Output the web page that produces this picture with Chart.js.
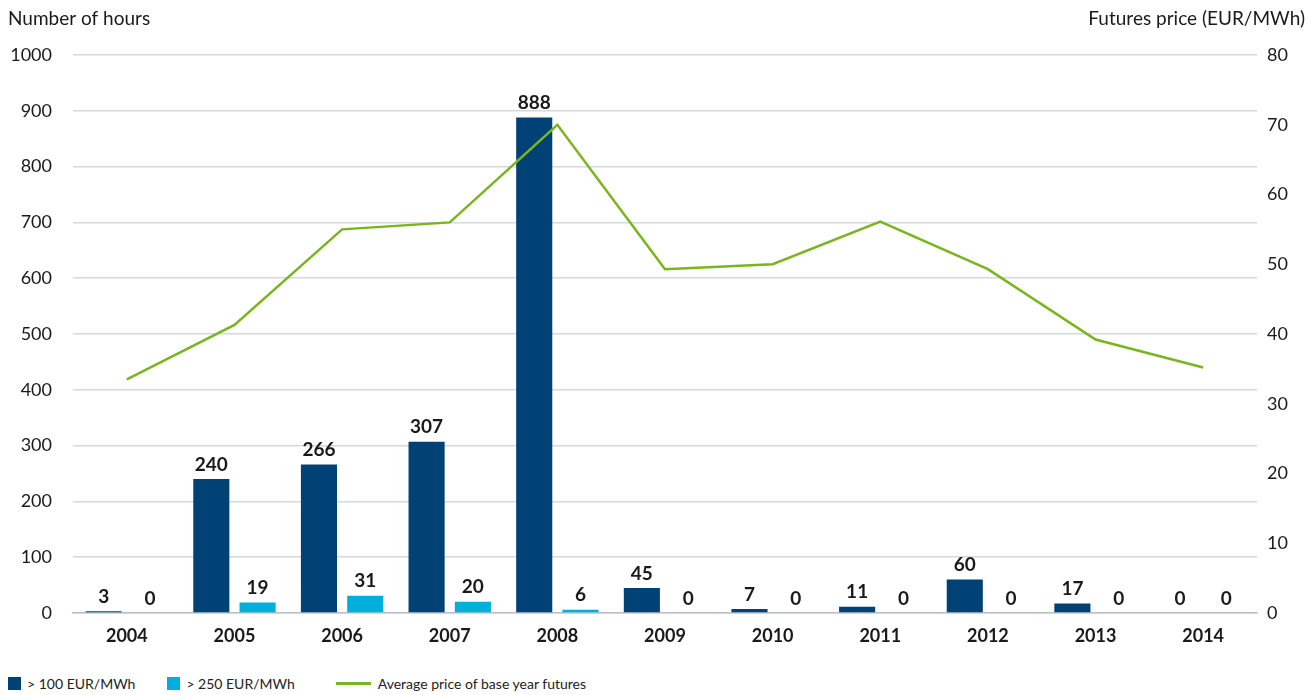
<!DOCTYPE html>
<html>
<head>
<meta charset="utf-8">
<script src="https://cdn.jsdelivr.net/npm/chart.js@4/dist/chart.umd.min.js"></script>
<style>
  html,body{margin:0;padding:0;background:#fff;}
  body{width:1311px;height:695px;overflow:hidden;font-family:Lato,"Open Sans",sans-serif;color:#1a1a1a;}
  #wrap{position:relative;width:1311px;height:660px;}
  .legend{position:absolute;left:8px;top:675px;font-size:14px;display:flex;align-items:center;color:#222;}
  .legend span.item{display:flex;align-items:center;margin-right:32px;}
  .legend span.item.l2{margin-right:41px;}
  .sw{display:inline-block;width:13px;height:13px;margin-right:6px;}
  .ln{display:inline-block;width:35px;height:3px;margin-right:7px;}
</style>
</head>
<body>
<div id="wrap"><canvas id="c" width="1311" height="660"></canvas></div>
<div class="legend" id="legend"></div>
<script>
// ====== Data ======
const years = ['2004','2005','2006','2007','2008','2009','2010','2011','2012','2013','2014'];
const hoursOver100 = [3,240,266,307,888,45,7,11,60,17,0];
const hoursOver250 = [0,19,31,20,6,0,0,0,0,0,0];
const futuresPrice = [33.5,41.3,55.0,56.0,70.0,49.3,50.0,56.1,49.3,39.2,35.2];
const hoursTicks = [0,100,200,300,400,500,600,700,800,900,1000];
const priceTicks = [0,10,20,30,40,50,60,70,80];

const COL_DARK = '#004275', COL_LIGHT = '#00b0dc', COL_LINE = '#7ab51d';
const FONT = 'Lato, "Open Sans", sans-serif';

// Legend
const legendItems = [
  {label:'> 100 EUR/MWh', color:COL_DARK, type:'box'},
  {label:'> 250 EUR/MWh', color:COL_LIGHT, type:'box'},
  {label:'Average price of base year futures', color:COL_LINE, type:'line'}
];
legendItems.forEach((it,i)=>{
  const cls = it.type==='box' ? 'sw' : 'ln';
  document.getElementById('legend').insertAdjacentHTML('beforeend',
    `<span class="item l${i+1}"><i class="${cls}" style="background:${it.color}"></i>${it.label}</span>`);
});

// Bar value labels + axis titles
const labelsPlugin = {
  id:'valueLabels',
  afterDatasetsDraw(chart){
    const ctx = chart.ctx;
    ctx.save();
    ctx.font = 'bold 19px ' + FONT;
    ctx.fillStyle = '#1a1a1a';
    ctx.textAlign = 'center';
    ctx.textBaseline = 'bottom';
    [0,1].forEach(di=>{
      const meta = chart.getDatasetMeta(di);
      meta.data.forEach((bar,i)=>{
        ctx.fillText(chart.data.datasets[di].data[i], bar.x, bar.y - 5);
      });
    });
    ctx.font = '19px ' + FONT;
    ctx.textBaseline = 'alphabetic';
    ctx.textAlign = 'left';
    ctx.fillText('Number of hours', 8, 25);
    ctx.textAlign = 'right';
    ctx.fillText('Futures price (EUR/MWh)', 1305, 25);
    ctx.restore();
  }
};

new Chart(document.getElementById('c'), {
  type:'bar',
  data:{
    labels: years,
    datasets:[
      {label:'> 100 EUR/MWh', data:hoursOver100, backgroundColor:COL_DARK, borderWidth:0, yAxisID:'y', categoryPercentage:0.86, barPercentage:0.78, order:2},
      {label:'> 250 EUR/MWh', data:hoursOver250, backgroundColor:COL_LIGHT, borderWidth:0, yAxisID:'y', categoryPercentage:0.86, barPercentage:0.78, order:2},
      {type:'line', label:'Average price of base year futures', data:futuresPrice, borderColor:COL_LINE, borderWidth:2.5, pointRadius:0, tension:0, yAxisID:'y1', order:1}
    ]
  },
  options:{
    responsive:false,
    animation:false,
    layout:{padding:{top:55,bottom:0,left:0,right:0}},
    plugins:{legend:{display:false}, tooltip:{enabled:false}},
    scales:{
      x:{
        grid:{display:false, drawTicks:false},
        border:{color:'#b9c2cc', width:1.5},
        ticks:{color:'#1a1a1a', font:{family:FONT, size:18, weight:'bold'}, padding:12},
        afterFit(s){ s.height = 47; }
      },
      y:{
        position:'left', min:0, max:1000,
        afterBuildTicks(s){ s.ticks = hoursTicks.map(v=>({value:v})); },
        grid:{color:'#d3d9df', lineWidth:1.5, drawTicks:false},
        border:{display:false},
        ticks:{color:'#1a1a1a', font:{family:FONT, size:18}, padding:21, callback:v=>String(v)},
        afterFit(s){ s.width = 73; }
      },
      y1:{
        position:'right', min:0, max:80,
        afterBuildTicks(s){ s.ticks = priceTicks.map(v=>({value:v})); },
        grid:{display:false, drawTicks:false},
        border:{display:false},
        ticks:{color:'#1a1a1a', font:{family:FONT, size:18}, padding:10, callback:v=>String(v)},
        afterFit(s){ s.width = 54; }
      }
    }
  },
  plugins:[labelsPlugin]
});
</script>
</body>
</html>
